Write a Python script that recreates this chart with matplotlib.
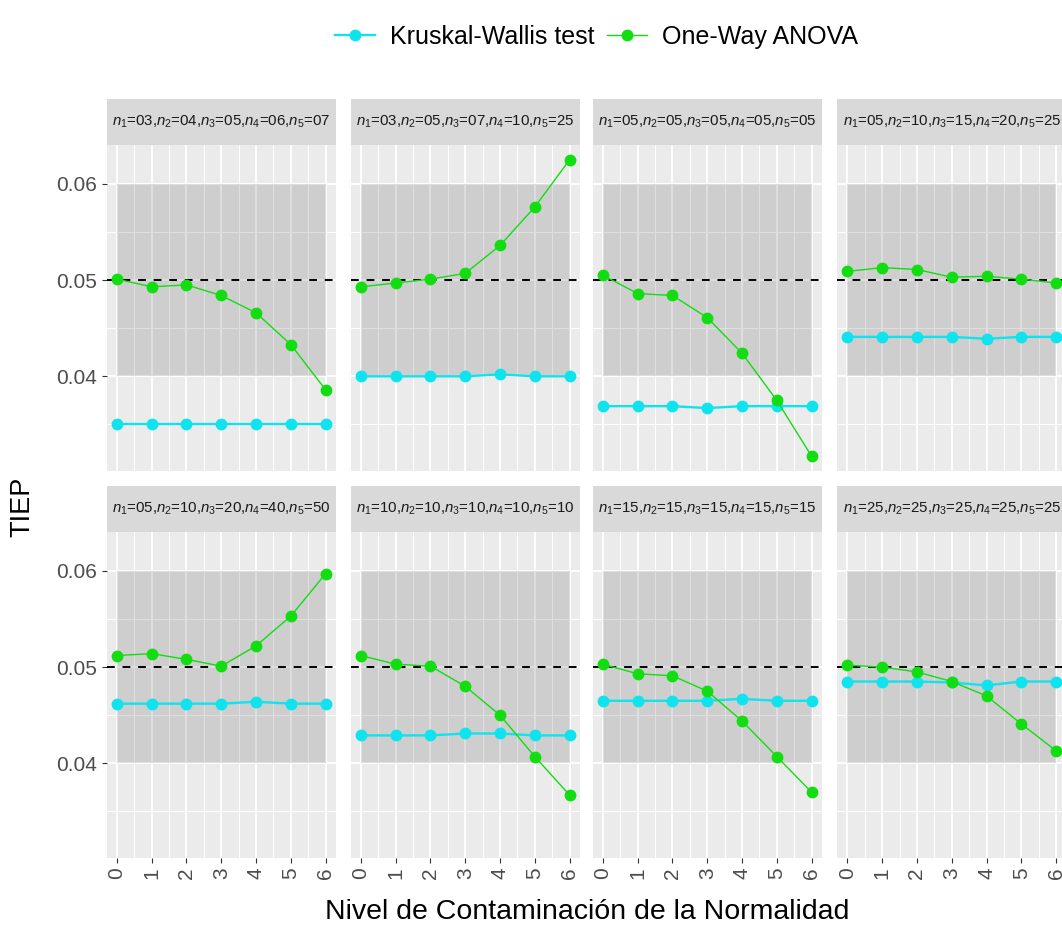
import numpy as np
import matplotlib.pyplot as plt
from matplotlib.lines import Line2D

plt.rcParams['font.family'] = ['Liberation Sans', 'DejaVu Sans']
plt.rcParams['mathtext.fontset'] = 'custom'
plt.rcParams['mathtext.rm'] = 'Liberation Sans'
plt.rcParams['mathtext.it'] = 'Liberation Sans:italic'

# Nivel de contaminacion (eje x)
niveles = [0, 1, 2, 3, 4, 5, 6]

# Tamanos muestrales de cada panel
tamanos = [
    ["03", "04", "05", "06", "07"],
    ["03", "05", "07", "10", "25"],
    ["05", "05", "05", "05", "05"],
    ["05", "10", "15", "20", "25"],
    ["05", "10", "20", "40", "50"],
    ["10", "10", "10", "10", "10"],
    ["15", "15", "15", "15", "15"],
    ["25", "25", "25", "25", "25"],
]

# TIEP Kruskal-Wallis
kw = [
    [0.0350, 0.0350, 0.0350, 0.0350, 0.0350, 0.0350, 0.0350],
    [0.0400, 0.0400, 0.0400, 0.0400, 0.0402, 0.0400, 0.0400],
    [0.0369, 0.0369, 0.0369, 0.0367, 0.0369, 0.0369, 0.0369],
    [0.0441, 0.0441, 0.0441, 0.0441, 0.0439, 0.0441, 0.0441],
    [0.0462, 0.0462, 0.0462, 0.0462, 0.0464, 0.0462, 0.0462],
    [0.0429, 0.0429, 0.0429, 0.0431, 0.0431, 0.0429, 0.0429],
    [0.0465, 0.0465, 0.0465, 0.0465, 0.0467, 0.0465, 0.0465],
    [0.0485, 0.0485, 0.0485, 0.0484, 0.0481, 0.0485, 0.0485],
]

# TIEP ANOVA de un factor
anova = [
    [0.0501, 0.0493, 0.0495, 0.0484, 0.0466, 0.0433, 0.0386],
    [0.0493, 0.0497, 0.0501, 0.0507, 0.0536, 0.0576, 0.0625],
    [0.0505, 0.0486, 0.0484, 0.0461, 0.0424, 0.0375, 0.0317],
    [0.0509, 0.0513, 0.0511, 0.0503, 0.0504, 0.0501, 0.0497],
    [0.0512, 0.0514, 0.0508, 0.0501, 0.0522, 0.0553, 0.0597],
    [0.0512, 0.0503, 0.0501, 0.0480, 0.0450, 0.0407, 0.0367],
    [0.0503, 0.0493, 0.0491, 0.0475, 0.0444, 0.0407, 0.0370],
    [0.0502, 0.0500, 0.0495, 0.0485, 0.0470, 0.0441, 0.0413],
]

alpha_nominal = 0.05
banda = (0.04, 0.06)

c_kw = '#0fe3ee'
c_an = '#11dd11'

W, H = 1062, 925
fig = plt.figure(figsize=(W / 100, H / 100), dpi=100)

todos = np.concatenate([np.ravel(kw), np.ravel(anova)])
lo, hi = todos.min(), todos.max()
pad = 0.05 * (hi - lo)
ylim = (lo - pad, hi + pad)

lefts = [106.5, 350.5, 592.5, 837.0]
pw = 229.5
row_bottom = [454, 67]   # pixels from bottom
ph = 326
sh = 46

for k in range(8):
    r, c = divmod(k, 4)
    x0 = lefts[c]
    y0 = row_bottom[r]
    ax = fig.add_axes([x0 / W, y0 / H, pw / W, ph / H])
    ax.set_facecolor('#ebebeb')
    for s in ax.spines.values():
        s.set_visible(False)
    ax.set_xlim(-0.3, 6.3)
    ax.set_ylim(*ylim)
    ax.set_xticks(niveles)
    ax.set_xticks([v + 0.5 for v in niveles[:-1]], minor=True)
    ax.set_yticks([0.04, 0.05, 0.06])
    ax.set_yticks([0.035, 0.045, 0.055], minor=True)
    ax.grid(which='major', color='white', lw=1.3)
    ax.grid(which='minor', color='white', lw=0.7)
    ax.set_axisbelow(True)
    ax.tick_params(which='minor', length=0)
    ax.tick_params(which='major', length=3.5, width=0.8, color='#333333',
                   labelcolor='#4d4d4d', labelsize=15)
    if c == 0:
        ax.set_yticklabels(['0.04', '0.05', '0.06'])
    else:
        ax.tick_params(axis='y', length=0, labelleft=False)
    if r == 1:
        ax.set_xticklabels([str(v) for v in niveles], rotation=90)
    else:
        ax.tick_params(axis='x', length=0, labelbottom=False)

    ax.fill_between([niveles[0], niveles[-1]], banda[0], banda[1],
                    color='black', alpha=0.12, lw=0, zorder=1)
    ax.axhline(alpha_nominal, color='black', ls=(0, (4, 4)), lw=1.4, zorder=2)
    ax.plot(niveles, kw[k], color=c_kw, lw=1.7, marker='o', ms=7.5, zorder=3)
    ax.plot(niveles, anova[k], color=c_an, lw=1.0, marker='o', ms=7.5, zorder=4)

    sax = fig.add_axes([x0 / W, (y0 + ph) / H, pw / W, sh / H])
    sax.set_facecolor('#d9d9d9')
    sax.set_xticks([])
    sax.set_yticks([])
    for s in sax.spines.values():
        s.set_visible(False)
    etiqueta = ",".join(f"$n_{i + 1}$={t}" for i, t in enumerate(tamanos[k]))
    sax.text(0.5, 0.5, etiqueta, ha='center', va='center', fontsize=10.8,
             color='#1a1a1a', transform=sax.transAxes)

fig.text(587 / W, 1 - 912 / H, 'Nivel de Contaminación de la Normalidad',
         ha='center', va='center', fontsize=20.5)
fig.text(22 / W, 1 - 507 / H, 'TIEP', ha='center', va='center',
         rotation=90, fontsize=19.5)

handles = [Line2D([], [], color=c_kw, lw=1.7, marker='o', ms=7.5),
           Line2D([], [], color=c_an, lw=1.0, marker='o', ms=7.5)]
fig.legend(handles, ['Kruskal-Wallis test', 'One-Way ANOVA'],
           loc='center', bbox_to_anchor=(596 / W, 1 - 37 / H), ncol=2,
           frameon=False, fontsize=18, handlelength=1.6, columnspacing=0.5,
           handletextpad=0.6)

fig.savefig('out.png', dpi=100)
